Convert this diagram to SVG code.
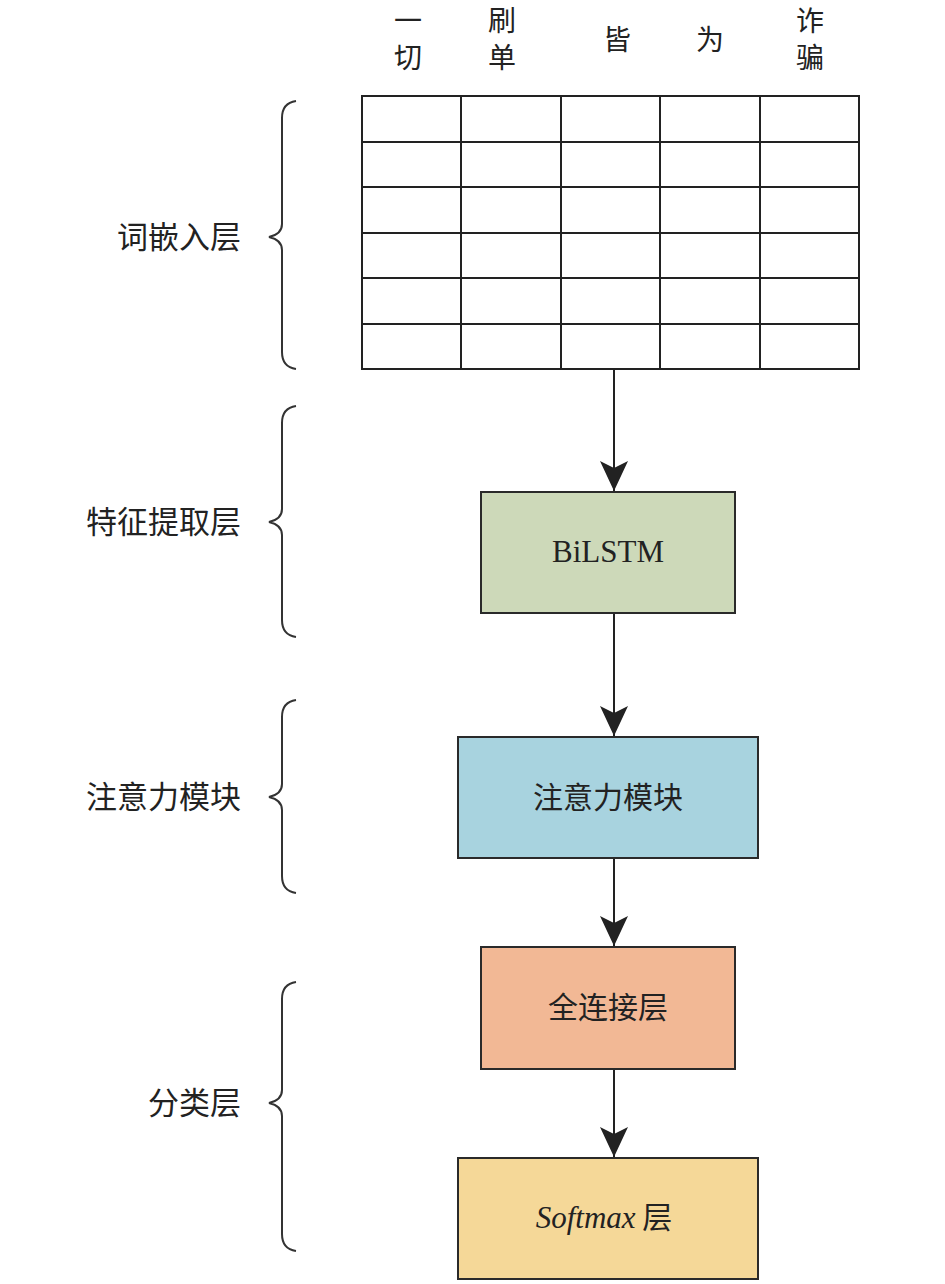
<svg xmlns="http://www.w3.org/2000/svg" width="945" height="1284" viewBox="0 0 945 1284">
<style>
.cjk{font-family:"Noto Sans CJK SC","Noto Sans CJK JP",sans-serif;font-size:30px;fill:#222;}
.hdr{font-size:28px;}
.lbl{text-anchor:end;font-size:31px;}
.mid{text-anchor:middle;}
.box{stroke:#2a2a2a;stroke-width:2;}
.ser{font-family:"Liberation Serif",serif;font-size:31px;fill:#222;}
.brace{fill:none;stroke:#333;stroke-width:2;}
.grid{fill:none;stroke:#222;stroke-width:2;}
.conn{stroke:#222;stroke-width:2;fill:none;}
</style>
<defs>
<marker id="arr" markerWidth="32" markerHeight="30" refX="30" refY="14" orient="auto" markerUnits="userSpaceOnUse" viewBox="0 0 32 30">
<path d="M0,0 L30,14 L0,28 L7,14 Z" fill="#222"/>
</marker>
</defs>
<rect width="945" height="1284" fill="#fff"/>

<g id="header">
<text class="cjk hdr mid" x="408" y="31">一</text>
<text class="cjk hdr mid" x="408" y="68">切</text>
<text class="cjk hdr mid" x="502" y="31">刷</text>
<text class="cjk hdr mid" x="502" y="68">单</text>
<text class="cjk hdr mid" x="617" y="50">皆</text>
<text class="cjk hdr mid" x="710" y="50">为</text>
<text class="cjk hdr mid" x="810" y="31">诈</text>
<text class="cjk hdr mid" x="810" y="68">骗</text>
</g>

<g id="embedding">
<rect class="grid" x="362" y="96" width="497" height="273"/>
<path class="grid" d="M461,96V369M561,96V369M660,96V369M760,96V369M362,142H859M362,187H859M362,233H859M362,278H859M362,324H859"/>
</g>

<g id="braces">
<path class="brace" d="M296,101 Q282,103 282,118 V224 Q282,234 269,237 Q282,240 282,250 V352 Q282,367 296,369"/>
<path class="brace" d="M296,406 Q282,408 282,423 V509 Q282,519 269,522 Q282,525 282,535 V620 Q282,635 296,637"/>
<path class="brace" d="M296,700 Q282,702 282,717 V784 Q282,794 269,797 Q282,800 282,810 V876 Q282,891 296,893"/>
<path class="brace" d="M296,982 Q282,984 282,999 V1090 Q282,1100 269,1103 Q282,1106 282,1116 V1234 Q282,1249 296,1251"/>
</g>

<g id="labels">
<text class="cjk lbl" x="241" y="248">词嵌入层</text>
<text class="cjk lbl" x="241" y="533">特征提取层</text>
<text class="cjk lbl" x="241" y="808">注意力模块</text>
<text class="cjk lbl" x="241" y="1114">分类层</text>
</g>

<g id="connectors">
<line class="conn" x1="614" y1="369" x2="614" y2="491" marker-end="url(#arr)"/>
<line class="conn" x1="614" y1="613" x2="614" y2="736" marker-end="url(#arr)"/>
<line class="conn" x1="614" y1="858" x2="614" y2="946" marker-end="url(#arr)"/>
<line class="conn" x1="614" y1="1069" x2="614" y2="1157" marker-end="url(#arr)"/>
</g>

<g id="bilstm">
<rect class="box" x="481" y="492" width="254" height="121" fill="#cdd9b9"/>
<text class="ser mid" x="608" y="562">BiLSTM</text>
</g>

<g id="attention">
<rect class="box" x="458" y="737" width="300" height="121" fill="#a8d3df"/>
<text class="cjk mid" x="608" y="808">注意力模块</text>
</g>

<g id="fc">
<rect class="box" x="481" y="947" width="254" height="122" fill="#f2b895"/>
<text class="cjk mid" x="608" y="1018">全连接层</text>
</g>

<g id="softmax">
<rect class="box" x="458" y="1158" width="300" height="121" fill="#f5d898"/>
<text class="ser mid" x="604" y="1228"><tspan font-style="italic">Softmax</tspan><tspan class="cjk"> 层</tspan></text>
</g>
</svg>
